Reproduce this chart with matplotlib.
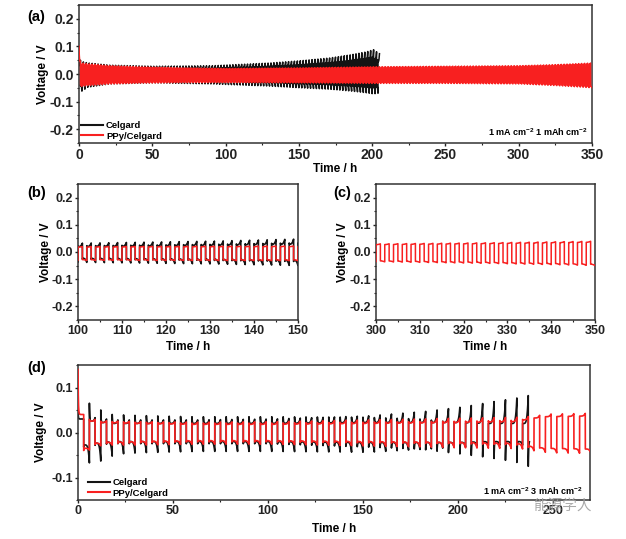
import numpy as np
import matplotlib
matplotlib.use("Agg")
import matplotlib.pyplot as plt
from matplotlib.ticker import MultipleLocator, FormatStrFormatter

plt.rcParams['font.family'] = ['Liberation Sans', 'DejaVu Sans']
plt.rcParams['font.weight'] = 'bold'
plt.rcParams['axes.unicode_minus'] = False
plt.rcParams['mathtext.fontset'] = 'custom'
plt.rcParams['mathtext.rm'] = 'Liberation Sans:bold'
plt.rcParams['mathtext.bf'] = 'Liberation Sans:bold'
plt.rcParams['mathtext.default'] = 'bf'

series_names = ['Celgard', 'PPy/Celgard']

# ---------------- 1 mA cm-2 / 1 mAh cm-2 test (panels a, b, c) ----------------
half_1 = 1.0                 # h per half cycle
stop_cel_1 = 205.0
stop_ppy_1 = 350.0
t_cel_1 = [0, 1, 5, 20, 50, 90, 110, 130, 150, 170, 185, 195, 200, 205]
cel_up_1 = [0.05, 0.045, 0.04, 0.032, 0.028, 0.03, 0.035, 0.04, 0.048, 0.058, 0.07, 0.08, 0.088, 0.07]
cel_dn_1 = [0.065, 0.062, 0.048, 0.036, 0.032, 0.036, 0.04, 0.044, 0.05, 0.055, 0.062, 0.068, 0.072, 0.068]
t_ppy_1 = [0, 1, 5, 20, 40, 70, 100, 150, 200, 250, 300, 325, 350]
ppy_up_1 = [0.045, 0.04, 0.037, 0.03, 0.026, 0.022, 0.02, 0.022, 0.026, 0.028, 0.03, 0.034, 0.04]
ppy_dn_1 = [0.05, 0.045, 0.042, 0.036, 0.033, 0.031, 0.031, 0.032, 0.034, 0.034, 0.036, 0.042, 0.05]
ppy_spike_1 = [0.06, 0, 0, 0, 0, 0, 0, 0, 0, 0, 0, 0, 0]

# ---------------- 1 mA cm-2 / 3 mAh cm-2 test (panel d) ----------------
half_3 = 3.0
stop_cel_3 = 237.8
stop_ppy_3 = 270.0
t_cel_3 = [0, 6, 12, 18, 30, 60, 100, 150, 180, 200, 215, 230, 237]
cel_plat_3 = [0.03, 0.025, 0.022, 0.02, 0.02, 0.02, 0.02, 0.022, 0.022, 0.022, 0.02, 0.02, 0.02]
cel_up_spike_3 = [0.02, 0.04, 0.028, 0.02, 0.018, 0.015, 0.015, 0.012, 0.008, 0.0, 0.0, 0.0, 0.0]
cel_up_end_3 = [0.0, 0.008, 0.008, 0.008, 0.008, 0.008, 0.01, 0.015, 0.025, 0.035, 0.048, 0.058, 0.065]
cel_dn_spike_3 = [0.005, 0.005, 0.005, 0.005, 0.005, 0.005, 0.005, 0.01, 0.015, 0.025, 0.035, 0.045, 0.055]
cel_dn_end_3 = [0.035, 0.045, 0.035, 0.028, 0.025, 0.022, 0.022, 0.022, 0.015, 0.01, 0.008, 0.008, 0.008]
t_ppy_3 = [0, 3, 6, 12, 30, 60, 100, 150, 200, 230, 236, 245, 260, 270]
ppy_plat_3 = [0.04, 0.035, 0.025, 0.022, 0.02, 0.018, 0.018, 0.02, 0.022, 0.024, 0.03, 0.035, 0.036, 0.037]
ppy_up_spike_3 = [0.10, 0.0, 0.004, 0.003, 0.003, 0.003, 0.003, 0.003, 0.003, 0.003, 0.0, 0.0, 0.0, 0.0]
ppy_up_end_3 = [0.0, 0.0, 0.004, 0.004, 0.004, 0.005, 0.006, 0.008, 0.01, 0.01, 0.006, 0.006, 0.006, 0.006]
ppy_dn_spike_3 = [0.005, 0.005, 0.004, 0.003, 0.003, 0.003, 0.003, 0.003, 0.003, 0.003, 0.003, 0.0, 0.0, 0.0]
ppy_dn_end_3 = [0.0, 0.004, 0.006, 0.006, 0.008, 0.008, 0.008, 0.01, 0.012, 0.012, 0.01, 0.01, 0.01, 0.01]

BLACK = '#141414'
RED = '#f82020'


def galvano(stop, half, first_sign, knots, up_plat, up_spike, up_end,
            dn_plat, dn_spike, dn_end, tau, power, n):
    s_base = np.concatenate([np.linspace(0, 0.2, n, endpoint=False), np.linspace(0.2, 1, n)])
    t_out, v_out = [], []
    start, k = 0.0, 0
    while start < stop - 1e-9:
        end = min(start + half, stop)
        s = s_base[s_base <= (end - start) / half + 1e-9]
        sign = first_sign if k % 2 == 0 else -first_sign
        if sign > 0:
            P, S, E = (np.interp(start, knots, a) for a in (up_plat, up_spike, up_end))
        else:
            P, S, E = (np.interp(start, knots, a) for a in (dn_plat, dn_spike, dn_end))
        v = sign * (P + S * np.exp(-s / tau) + E * s ** power)
        t_out.append(start + s * half)
        v_out.append(v)
        start = end
        k += 1
    return np.concatenate(t_out), np.concatenate(v_out)


# panels a-c data (same cells, different windows)
cu, cd = np.array(cel_up_1), np.array(cel_dn_1)
t_c1, v_c1 = galvano(stop_cel_1, half_1, 1, t_cel_1, 0.6 * cu, 0.1 * cu, 0.4 * cu,
                     0.6 * cd, 0.1 * cd, 0.4 * cd, 0.05, 3, 6)
pu, pd = np.array(ppy_up_1), np.array(ppy_dn_1)
t_p1, v_p1 = galvano(stop_ppy_1, half_1, 1, t_ppy_1, 0.9 * pu, ppy_spike_1, 0.1 * pu,
                     0.9 * pd, 0 * pd, 0.1 * pd, 0.25, 2, 6)

# panel d data
t_c3, v_c3 = galvano(stop_cel_3, half_3, 1, t_cel_3, cel_plat_3, cel_up_spike_3, cel_up_end_3,
                     cel_plat_3, cel_dn_spike_3, cel_dn_end_3, 0.05, 5, 12)
t_p3, v_p3 = galvano(stop_ppy_3, half_3, 1, t_ppy_3, ppy_plat_3, ppy_up_spike_3, ppy_up_end_3,
                     ppy_plat_3, ppy_dn_spike_3, ppy_dn_end_3, 0.06, 4, 12)

W, H = 626, 539
fig = plt.figure(figsize=(W / 100, H / 100), dpi=100)


def px_axes(l, t, r, b):
    return fig.add_axes([l / W, 1 - b / H, (r - l) / W, (b - t) / H])


def style(ax, xmaj, xmin, ymaj, ymin, lsize):
    ax.xaxis.set_major_locator(MultipleLocator(xmaj))
    ax.xaxis.set_minor_locator(MultipleLocator(xmin))
    ax.yaxis.set_major_locator(MultipleLocator(ymaj))
    ax.yaxis.set_minor_locator(MultipleLocator(ymin))
    ax.yaxis.set_major_formatter(FormatStrFormatter('%.1f'))
    ax.tick_params(which='major', direction='out', length=2.5, width=1.0, labelsize=lsize,
                   top=False, right=False, pad=1.3, colors='#222222')
    ax.tick_params(which='minor', direction='out', length=1.6, width=0.8, top=False, right=False,
                   colors='#222222')
    for sp in ax.spines.values():
        sp.set_linewidth(1.1)
        sp.set_color('#333333')
    for lab in ax.get_xticklabels() + ax.get_yticklabels():
        lab.set_fontweight('bold')


lab_kw = dict(fontsize=8.5, fontweight='bold')

# (a)
axa = px_axes(79, 5, 592, 143)
axa.plot(t_c1, v_c1, color=BLACK, lw=1.1, label=series_names[0], zorder=2)
axa.plot(t_p1, v_p1, color=RED, lw=1.1, label=series_names[1], zorder=3)
axa.set_xlim(0, 350)
axa.set_ylim(-0.25, 0.25)
style(axa, 50, 25, 0.1, 0.05, 10)
axa.set_xlabel('Time / h', **lab_kw)
axa.set_ylabel('Voltage / V', **lab_kw)
axa.xaxis.set_label_coords(0.5, -0.148)
axa.yaxis.set_label_coords(-0.058, 0.5)
leg = axa.legend(loc='lower left', frameon=False, prop={'size': 6.8, 'weight': 'bold'},
                 handlelength=2.3, handletextpad=0.3, labelspacing=0.15,
                 borderaxespad=0.15, borderpad=0.1)
for line in leg.get_lines():
    line.set_linewidth(1.5)
axa.text(0.992, 0.08, r'1 mA cm$^{-2}$ 1 mAh cm$^{-2}$', transform=axa.transAxes,
         ha='right', va='center', fontsize=6.5, fontweight='bold')

# (b)
axb = px_axes(78, 184, 298, 320)
axb.plot(t_c1, v_c1, color=BLACK, lw=1.2, zorder=2)
axb.plot(t_p1, v_p1, color=RED, lw=1.1, zorder=3)
axb.set_xlim(100, 150)
axb.set_ylim(-0.25, 0.25)
style(axb, 10, 5, 0.1, 0.05, 9)
axb.set_xlabel('Time / h', **lab_kw)
axb.set_ylabel('Voltage / V', **lab_kw)
axb.xaxis.set_label_coords(0.5, -0.155)
axb.yaxis.set_label_coords(-0.118, 0.5)

# (c)
axc = px_axes(376, 184, 595, 320)
axc.plot(t_p1, v_p1, color=RED, lw=1.1, zorder=3)
axc.set_xlim(300, 350)
axc.set_ylim(-0.25, 0.25)
style(axc, 10, 5, 0.1, 0.05, 9)
axc.set_xlabel('Time / h', **lab_kw)
axc.set_ylabel('Voltage / V', **lab_kw)
axc.xaxis.set_label_coords(0.5, -0.155)
axc.yaxis.set_label_coords(-0.122, 0.5)

# (d)
axd = px_axes(78, 365, 590, 500)
axd.plot(t_c3, v_c3, color=BLACK, lw=1.2, label=series_names[0], zorder=2)
axd.plot(t_p3, v_p3, color=RED, lw=1.2, label=series_names[1], zorder=3)
axd.set_xlim(0, 269.5)
axd.set_ylim(-0.15, 0.15)
style(axd, 50, 25, 0.1, 0.05, 9)
axd.set_xlabel('Time / h', **lab_kw)
axd.set_ylabel('Voltage / V', **lab_kw)
axd.xaxis.set_label_coords(0.5, -0.17)
axd.yaxis.set_label_coords(-0.0605, 0.5)
legd = axd.legend(loc='lower left', frameon=False, prop={'size': 6.8, 'weight': 'bold'},
                  handlelength=2.3, handletextpad=0.3, labelspacing=0.15,
                  borderaxespad=0.15, borderpad=0.1, bbox_to_anchor=(0.015, 0.0))
for line in legd.get_lines():
    line.set_linewidth(1.5)
axd.text(0.986, 0.069, r'1 mA cm$^{-2}$ 3 mAh cm$^{-2}$', transform=axd.transAxes,
         ha='right', va='center', fontsize=6.5, fontweight='bold')

# panel labels
for txt, x, y in [('(a)', 27, 17), ('(b)', 27, 193), ('(c)', 333, 193), ('(d)', 27, 368)]:
    fig.text(x / W, 1 - y / H, txt, fontsize=10.5, fontweight='bold', ha='left', va='center')

# watermark
fig.text(533 / W, 1 - 506 / H, '能源学人', fontsize=10.5, color='#a0a0a0', alpha=0.9,
         family=['Noto Sans CJK SC', 'DejaVu Sans'], fontweight='normal', ha='left', va='center')

fig.savefig('out.png', dpi=100)
